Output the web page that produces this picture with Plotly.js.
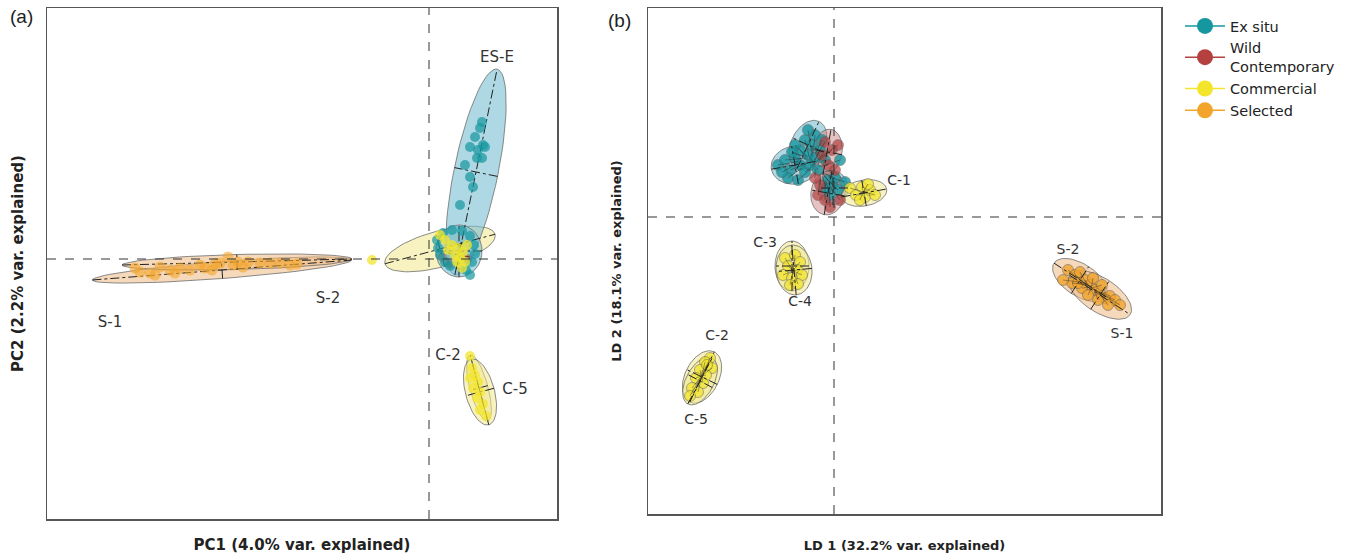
<!DOCTYPE html>
<html><head><meta charset="utf-8">
<script src="https://cdn.plot.ly/plotly-3.0.1.min.js"></script>
<style>body{margin:0;background:#fff}#c{width:1352px;height:556px}</style>
</head><body><div id="c"></div>
<script>
// ---------- Panel (a): PCA scores ----------
const pcaSelectedX = [-29.4,-28.9,-27.9,-27.4,-26.9,-25.9,-25.4,-24.9,-23.9,-22.9,-22.4,-21.7,-21.4,-20.9,-20.1,-19.6,-19.1,-18.6,-18.1,-16.9,-15.9,-14.9,-13.9,-13.2];
const pcaSelectedY = [-0.9,-1.3,-1.4,-1.6,-0.8,-1.1,-1.4,-0.9,-1.1,-0.6,-0.9,-1.1,-0.5,-0.4,0.2,-0.6,-0.3,-0.8,-0.3,-0.4,-0.4,-0.4,-0.6,-0.5];
const pcaCommercialX = [-5.7,2.3,2.9,3.4,2.6,3.1,3.6,2.8,3.3,1.9,3.8,1.6,1.1, 4.1,4.3,4.6,4.9,4.4,5.1,4.8,5.4,5.1,5.7,4.1];
const pcaCommercialY = [-0.1,1.4,1.1,0.7,0.4,0.1,-0.3,-0.3,-0.9,0.9,1.4,1.9,2.4, -9.7,-10.9,-11.6,-12.3,-12.9,-13.3,-13.9,-14.5,-15.1,-15.7,-11.9];
const pcaExsituX = [5.3,5.1,4.6,5.4,4.1,4.9,5.6,4.8,5.3,3.6,4.1,4.4,3.1, 0.8,1.4,2.3,3.3,4.1,4.5,4.6,4.3,1.1,0.9,1.6,2.1,3.7,4.1];
const pcaExsituY = [13.7,13.1,12.2,11.4,11.2,10.9,11.2,10.1,10.1,9.4,8.2,7.2,5.4, 1.9,2.6,2.9,2.8,2.3,1.4,0.5,-0.3,0.4,1.1,-0.3,-0.7,-1.1,-1.6];
const pcaWildX = [1.3,2.0,3.9];
const pcaWildY = [0.2,-0.5,0.0];
// ellipse summaries: [centreX, centreY, semiMajor, semiMinor, angleDeg]
const pcaEllipses = {
  Selected:   [[-20.7,-1.1,13.0,0.85,4.4],[-19.2,-0.3,11.5,0.75,1.5]],
  Commercial: [[1.1,1.0,5.7,1.8,15],[3.0,0.4,1.4,1.1,80],[5.0,-12.9,3.4,0.9,105],[5.1,-13.3,3.4,1.45,105]],
  ExSitu:     [[4.7,8.7,10.5,2.2,78.4],[3.0,0.8,2.6,2.3,90]]
};
const pcaLabels = ["ES-E","S-1","S-2","C-2","C-5"];
const pcaLabelX = [6.8,-31.9,-10.1,1.9,8.6];
const pcaLabelY = [20.1,-6.4,-4.0,-9.7,-13.1];

// ---------- Panel (b): DAPC scores ----------
const ldExsituX = [-5.6,-4.9,-4.4,-3.9,-3.4,-2.9,-4.6,-3.6,-2.6,-2.2,-2.9,-1.9,-1.4,-0.9,-2.4,-1.6,-3.4,-3.9,-2.6,0.6,-0.6,-0.1,0.4,-0.4,-0.8,0.1,-4.2,-5.2,-1.9,-1.2,1.1];
const ldExsituY = [5.2,5.7,4.7,5.9,5.2,4.5,3.9,3.7,6.2,7.2,7.7,8.2,6.7,5.7,5.2,4.7,6.7,7.2,8.7,5.7,3.7,3.2,2.7,2.2,2.9,3.9,6.5,4.5,5.9,7.7,3.5];
const ldWildX = [-0.9,-0.2,-0.6,0.1,-1.4,-1.6,-0.9,-0.4,0.6,-1.9,0.4,-1.2];
const ldWildY = [7.5,6.7,5.2,4.7,3.2,2.2,1.7,1.0,1.7,3.9,7.2,6.2];
const ldCommercialX = [1.6,2.2,2.8,3.1,3.6,2.6,4.1,3.4, -4.9,-3.9,-3.4,-4.6,-3.7,-5.1,-4.2,-3.2,-4.4,-3.6, -12.4,-12.9,-12.2,-13.4,-12.8,-13.8,-13.1,-14.2,-13.6,-14.4,-12.7];
const ldCommercialY = [2.9,2.2,3.0,2.0,2.7,1.7,2.2,3.3, -4.1,-3.8,-4.5,-4.9,-5.3,-5.8,-6.1,-5.8,-6.8,-6.7, -14.1,-14.5,-15.1,-15.3,-15.8,-16.1,-16.6,-17.1,-17.5,-17.9,-14.8];
const ldSelectedX = [23.4,24.1,24.6,25.1,23.8,25.6,26.1,24.8,26.6,27.1,27.6,26.4,28.1,25.4,24.4,26.8,25.9,27.4,22.9,28.6];
const ldSelectedY = [-5.3,-5.8,-5.5,-6.3,-6.6,-6.8,-7.3,-7.1,-7.6,-8.1,-7.9,-8.3,-8.3,-7.8,-6.6,-6.8,-6.1,-8.8,-6.3,-8.8];
const ldEllipses = {
  ExSitu:     [[-3.9,5.2,2.4,1.9,10],[-2.6,7.2,2.6,1.7,65],[-0.1,2.9,1.7,1.5,90]],
  Wild:       [[-0.7,6.5,2.3,1.5,80],[-0.6,2.4,2.2,1.7,80]],
  Commercial: [[3.0,2.4,2.3,1.3,10],[-4.2,-4.9,2.5,1.7,90],[-4.0,-5.3,2.5,1.8,95],[-13.2,-16.0,2.8,1.7,64],[-13.4,-16.4,2.6,1.4,62]],
  Selected:   [[24.6,-6.3,3.1,1.6,-33],[26.6,-7.8,3.6,1.7,-33]]
};
const ldLabels = ["C-1","C-3","C-4","C-2","C-5","S-2","S-1"];
const ldLabelX = [6.5,-6.9,-3.4,-11.7,-13.8,23.4,28.8];
const ldLabelY = [3.6,-2.6,-8.5,-11.9,-20.3,-3.3,-11.7];

const legendNames = ["Ex situ","Wild<br>Contemporary","Commercial","Selected"];

// ---------- styles ----------
const col = {ExSitu:'#16979f', Wild:'#b44140', Commercial:'#f3e52c', Selected:'#f3a52b'};
const fillCol = {ExSitu:'rgba(120,190,210,0.6)', Wild:'rgba(200,120,120,0.45)', Commercial:'rgba(240,232,140,0.55)', Selected:'rgba(238,185,130,0.55)'};

function ellipsePts(e){
  const [cx,cy,a,b,ang]=e, t=ang*Math.PI/180, xs=[], ys=[];
  for(let i=0;i<=72;i++){const u=2*Math.PI*i/72;
    xs.push(cx+a*Math.cos(u)*Math.cos(t)-b*Math.sin(u)*Math.sin(t));
    ys.push(cy+a*Math.cos(u)*Math.sin(t)+b*Math.sin(u)*Math.cos(t));}
  return [xs,ys];
}
function axesPts(list){
  const xs=[],ys=[];
  list.forEach(e=>{const [cx,cy,a,b,ang]=e,t=ang*Math.PI/180;
    xs.push(cx-a*Math.cos(t),cx+a*Math.cos(t),null,cx+b*Math.sin(t),cx-b*Math.sin(t),null);
    ys.push(cy-a*Math.sin(t),cy+a*Math.sin(t),null,cy-b*Math.cos(t),cy+b*Math.cos(t),null);});
  return [xs,ys];
}
const traces=[];
function addEllipses(obj,xa,ya){
  Object.keys(obj).forEach(k=>obj[k].forEach(e=>{const [xs,ys]=ellipsePts(e);
    traces.push({x:xs,y:ys,xaxis:xa,yaxis:ya,mode:'lines',fill:'toself',fillcolor:fillCol[k],
      line:{color:'rgba(110,110,110,0.8)',width:1},showlegend:false,hoverinfo:'skip'});}));
}
function addAxes(obj,xa,ya){
  let all=[];Object.keys(obj).forEach(k=>all=all.concat(obj[k]));
  const [xs,ys]=axesPts(all);
  traces.push({x:xs,y:ys,xaxis:xa,yaxis:ya,mode:'lines',line:{color:'#222',width:1,dash:'dashdot'},showlegend:false,hoverinfo:'skip'});
}
function addSpokes(xs,ys,xa,ya){
  const gx=[],gy=[];
  xs.forEach((x,i)=>{let sx=0,sy=0,n=0;xs.forEach((x2,j)=>{if(Math.hypot(x2-x,ys[j]-ys[i])<4){sx+=x2;sy+=ys[j];n++;}});
    gx.push(x,sx/n,null);gy.push(ys[i],sy/n,null);});
  traces.push({x:gx,y:gy,xaxis:xa,yaxis:ya,mode:'lines',line:{color:'rgba(30,30,30,0.55)',width:0.7},showlegend:false,hoverinfo:'skip'});
}
function addPts(xs,ys,k,xa,ya,outline,size,op){
  traces.push({x:xs,y:ys,xaxis:xa,yaxis:ya,mode:'markers',showlegend:false,hoverinfo:'skip',
    marker:{color:col[k],size:size,opacity:op,line:{color:outline?'rgba(90,90,90,0.8)':'rgba(0,0,0,0)',width:outline?0.8:0}}});
}

// panel (a)
addEllipses(pcaEllipses,'x','y');
addAxes(pcaEllipses,'x','y');
addPts(pcaSelectedX,pcaSelectedY,'Selected','x','y',false,11,0.6);
addPts(pcaWildX,pcaWildY,'Wild','x','y',false,9,0.5);
addPts(pcaExsituX,pcaExsituY,'ExSitu','x','y',false,10,0.7);
addPts(pcaCommercialX,pcaCommercialY,'Commercial','x','y',false,10,0.75);
// panel (b)
addEllipses(ldEllipses,'x2','y2');
addPts(ldExsituX,ldExsituY,'ExSitu','x2','y2',true,11,0.8);
addPts(ldWildX,ldWildY,'Wild','x2','y2',true,11,0.7);
addPts(ldCommercialX,ldCommercialY,'Commercial','x2','y2',true,11,0.75);
addPts(ldSelectedX,ldSelectedY,'Selected','x2','y2',true,11,0.8);
addSpokes(ldExsituX.concat(ldWildX),ldExsituY.concat(ldWildY),'x2','y2');
addSpokes(ldCommercialX,ldCommercialY,'x2','y2');
addSpokes(ldSelectedX,ldSelectedY,'x2','y2');
addAxes(ldEllipses,'x2','y2');
// labels
traces.push({x:pcaLabelX,y:pcaLabelY,text:pcaLabels,mode:'text',xaxis:'x',yaxis:'y',showlegend:false,hoverinfo:'skip',
  textfont:{family:'DejaVu Sans',size:15,color:'#333'}});
traces.push({x:ldLabelX,y:ldLabelY,text:ldLabels,mode:'text',xaxis:'x2',yaxis:'y2',showlegend:false,hoverinfo:'skip',
  textfont:{family:'DejaVu Sans',size:14,color:'#333'}});
// legend entries
['ExSitu','Wild','Commercial','Selected'].forEach((k,i)=>traces.push({x:[null],y:[null],xaxis:'x2',yaxis:'y2',
  mode:'lines+markers',name:legendNames[i],line:{color:col[k],width:1.5},marker:{color:col[k],size:16}}));

const axBase={showticklabels:false,ticks:'',showgrid:false,zeroline:false,showline:true,mirror:true,linecolor:'#555',linewidth:1.5,fixedrange:true};
const layout={
  width:1352,height:556,margin:{l:0,r:0,t:0,b:0},paper_bgcolor:'#fff',plot_bgcolor:'#fff',
  font:{family:'DejaVu Sans',color:'#222'},
  xaxis:Object.assign({},axBase,{domain:[47/1352,557/1352],range:[-38.2,12.8],
    title:{text:'<b>PC1 (4.0% var. explained)</b>',font:{size:15,color:'#222'},standoff:20}}),
  yaxis:Object.assign({},axBase,{domain:[1-519/556,1-8/556],range:[-26.0,25.1],
    title:{text:'<b>PC2 (2.2% var. explained)</b>',font:{size:15,color:'#222'},standoff:18}}),
  xaxis2:Object.assign({},axBase,{domain:[648/1352,1161/1352],range:[-18.6,32.7],anchor:'y2',
    title:{text:'<b>LD 1 (32.2% var. explained)</b>',font:{size:13,color:'#222'},standoff:26}}),
  yaxis2:Object.assign({},axBase,{domain:[1-514/556,1-8/556],range:[-29.7,20.9],anchor:'x2',
    title:{text:'<b>LD 2 (18.1% var. explained)</b>',font:{size:13,color:'#222'},standoff:22}}),
  showlegend:true,
  legend:{x:1180/1352,y:1-10/556,xanchor:'left',yanchor:'top',font:{family:'DejaVu Sans',size:14.5,color:'#222'},
    tracegroupgap:0,itemwidth:40,bgcolor:'rgba(0,0,0,0)'},
  shapes:[
    {type:'line',xref:'x',yref:'y domain',x0:0,x1:0,y0:0,y1:1,line:{color:'#333',width:1,dash:'dash'}},
    {type:'line',xref:'x domain',yref:'y',x0:0,x1:1,y0:0,y1:0,line:{color:'#333',width:1,dash:'dash'}},
    {type:'line',xref:'x2',yref:'y2 domain',x0:0,x1:0,y0:0,y1:1,line:{color:'#333',width:1,dash:'dash'}},
    {type:'line',xref:'x2 domain',yref:'y2',x0:0,x1:1,y0:0,y1:0,line:{color:'#333',width:1,dash:'dash'}}
  ],
  annotations:[
    {text:'(a)',xref:'paper',yref:'paper',x:8/1352,y:1-4/556,xanchor:'left',yanchor:'top',showarrow:false,font:{family:'Liberation Sans',size:19,color:'#222'}},
    {text:'(b)',xref:'paper',yref:'paper',x:606/1352,y:1-8/556,xanchor:'left',yanchor:'top',showarrow:false,font:{family:'Liberation Sans',size:19,color:'#222'}}
  ]
};
Plotly.newPlot('c',traces,layout,{staticPlot:true,displayModeBar:false});
</script></body></html>
